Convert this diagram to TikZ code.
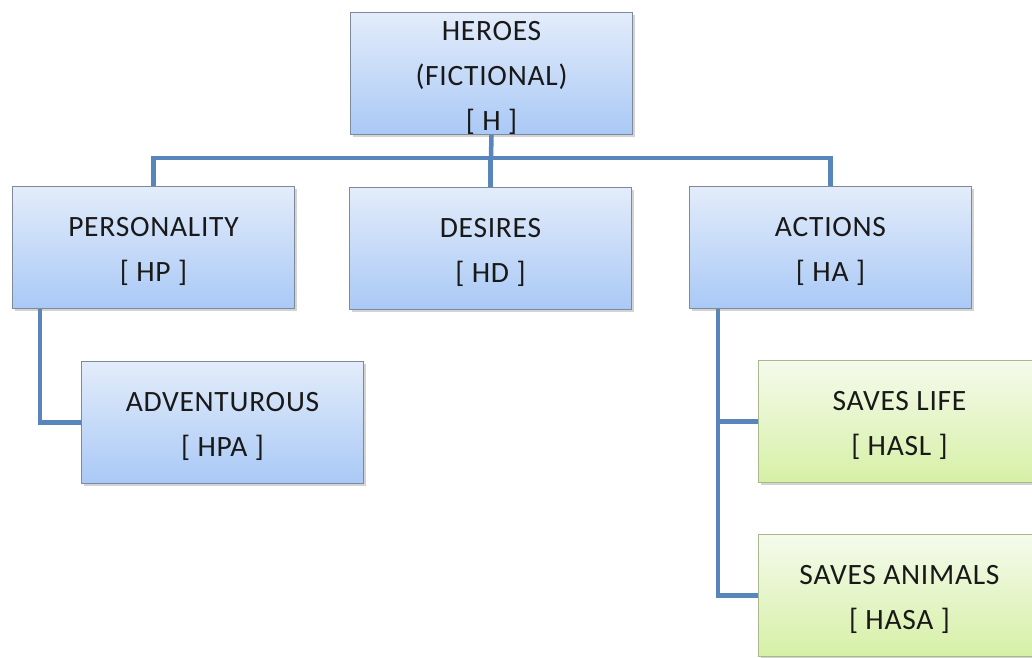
\documentclass[tikz,border=0pt]{standalone}
\usepackage{fontspec}
\setmainfont{Carlito}
\usetikzlibrary{shadows,backgrounds}
\definecolor{bluetop}{HTML}{E3ECFA}
\definecolor{bluebot}{HTML}{A9C9F6}
\definecolor{blueedge}{HTML}{7D8A9C}
\definecolor{greentop}{HTML}{F5FAEC}
\definecolor{greenbot}{HTML}{D6F0A6}
\definecolor{greenedge}{HTML}{A7B98C}
\definecolor{linkblue}{HTML}{5785BC}
\tikzset{
  x=1pt, y=1pt,
  box/.style={draw=blueedge, line width=1pt, rectangle, anchor=north west,
    minimum width=282pt, minimum height=122pt,
    top color=bluetop, bottom color=bluebot,
    drop shadow={opacity=0.35, shadow xshift=2pt, shadow yshift=-2.5pt}},
  greenbox/.style={box, draw=greenedge, top color=greentop, bottom color=greenbot},
  lbl/.style={align=center, text=black!90, anchor=center, inner sep=0pt, yshift=-4pt,
    font=\fontsize{29.5}{45}\selectfont\addfontfeature{LetterSpace=2.5}},
  conn/.style={draw=linkblue, line width=4.5pt}
}
\begin{document}
\begin{tikzpicture}
\useasboundingbox (0,0) rectangle (1032,-657);
% tree boxes
\node[box] (H) at (350,-12) {};
\node[box] (HP) at (12,-186) {};
\node[box] (HD) at (349,-187) {};
\node[box] (HA) at (689,-186) {};
\node[box] (HPA) at (81,-361) {};
\node[greenbox] (HASL) at (758,-360) {};
\node[greenbox] (HASA) at (758,-534) {};
% labels
\node[lbl] (Ht) at (H.center) {HEROES\\(FICTIONAL)\\{[} H {]}};
\node[lbl] (HPt) at (HP.center) {PERSONALITY\\{[} HP {]}};
\node[lbl] (HDt) at (HD.center) {DESIRES\\{[} HD {]}};
\node[lbl] (HAt) at (HA.center) {ACTIONS\\{[} HA {]}};
\node[lbl] (HPAt) at (HPA.center) {ADVENTUROUS\\{[} HPA {]}};
\node[lbl] (HASLt) at (HASL.center) {SAVES LIFE\\{[} HASL {]}};
\node[lbl] (HASAt) at (HASA.center) {SAVES ANIMALS\\{[} HASA {]}};
% connectors, kept behind the boxes
\coordinate (bar) at (491,-158);
\begin{scope}[on background layer]
\path[conn] (H.south) -- (bar);
\path[conn] (HP.north) |- (bar) -| (HA.north);
\path[conn] (HD.north) -- (HD.north |- bar);
\path[conn] ([xshift=28pt]HP.south west) |- (HPA.west);
\path[conn] ([xshift=29pt]HA.south west) |- (HASL.west);
\path[conn] ([xshift=29pt]HA.south west) |- (HASA.west);
\end{scope}
\end{tikzpicture}
\end{document}
